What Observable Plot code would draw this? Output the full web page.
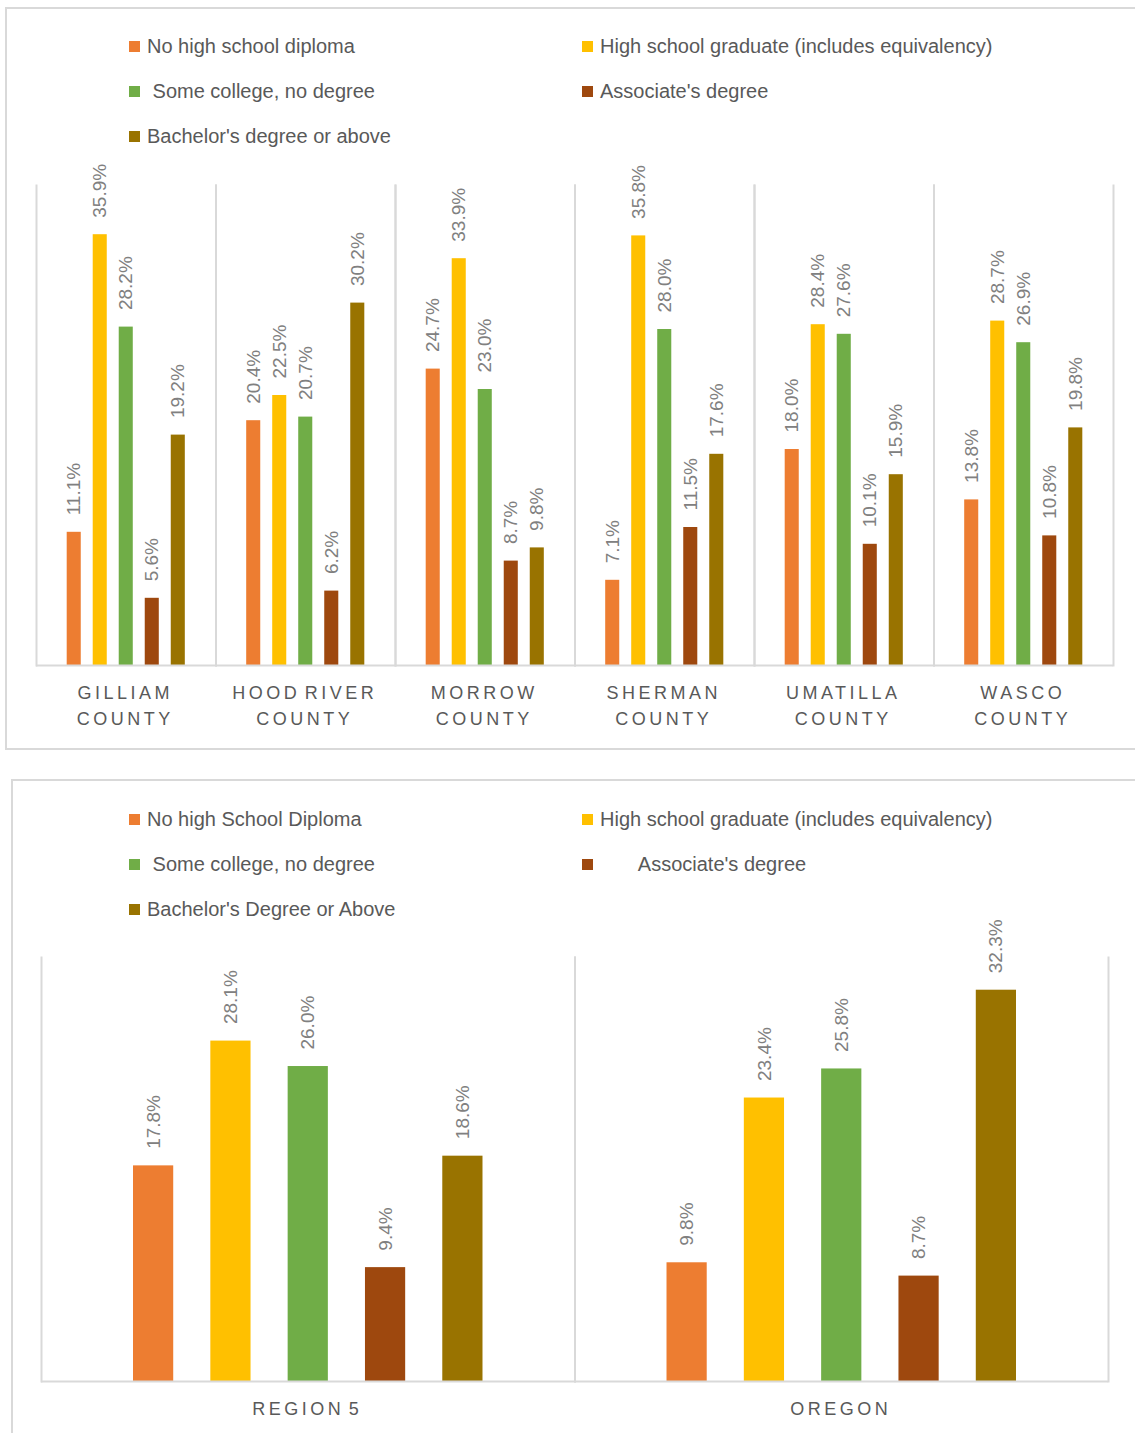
<!DOCTYPE html>
<html>
<head>
<meta charset="utf-8">
<script src="https://cdn.jsdelivr.net/npm/d3@7"></script>
<script src="https://cdn.jsdelivr.net/npm/@observablehq/plot@0.6"></script>
<style>
  html, body { margin: 0; padding: 0; background: #fff; }
  body { width: 1135px; height: 1433px; overflow: hidden; position: relative; font-family: "Liberation Sans", Arial, sans-serif; }
  .box { position: absolute; border: 2px solid #d9d9d9; box-sizing: border-box; }
  .legend { position: absolute; display: grid; grid-template-columns: 453px auto; grid-auto-rows: 45px; align-items: center; color: #595959; font-size: 20px; }
  .legend .item { display: flex; align-items: center; white-space: pre; }
  .legend .sw { width: 11px; height: 11px; margin-right: 7px; flex: none; }
  .chart { position: absolute; left: 0; }
  .chart g[aria-label="fx-axis tick label"] text { font-size: 18px; letter-spacing: 3.5px; word-spacing: -4px; fill: #595959; }
</style>
</head>
<body>
<div class="box" style="left:5px; top:7px; width:1200px; height:743px;"></div>
<div class="box" style="left:11px; top:779px; width:1200px; height:800px;"></div>
<div id="legendTop" class="legend" style="left:129px; top:24px;"></div>
<div id="legendBottom" class="legend" style="left:129px; top:797px;"></div>
<div id="chartTop" class="chart" style="top:160px;"></div>
<div id="chartBottom" class="chart" style="top:930px;"></div>
<script>
// ---- data ----
const categories = [
  "No high school diploma",
  "High school graduate (includes equivalency)",
  "Some college, no degree",
  "Associate's degree",
  "Bachelor's degree or above"
];
const colors = ["#ED7D31", "#FFC000", "#70AD47", "#9E480E", "#997300"];

const legendTopLabels = [
  "No high school diploma",
  "High school graduate (includes equivalency)",
  " Some college, no degree",
  "Associate's degree",
  "Bachelor's degree or above"
];
const legendBottomLabels = [
  "No high School Diploma",
  "High school graduate (includes equivalency)",
  " Some college, no degree",
  "       Associate's degree",
  "Bachelor's Degree or Above"
];

const counties = ["Gilliam County", "Hood River County", "Morrow County", "Sherman County", "Umatilla County", "Wasco County"];
const countyNoDiploma    = [11.1, 20.4, 24.7, 7.1, 18.0, 13.8];
const countyHSGrad       = [35.9, 22.5, 33.9, 35.8, 28.4, 28.7];
const countySomeCollege  = [28.2, 20.7, 23.0, 28.0, 27.6, 26.9];
const countyAssociate    = [5.6, 6.2, 8.7, 11.5, 10.1, 10.8];
const countyBachelor     = [19.2, 30.2, 9.8, 17.6, 15.9, 19.8];

const areas = ["Region 5", "Oregon"];
const areaNoDiploma   = [17.8, 9.8];
const areaHSGrad      = [28.1, 23.4];
const areaSomeCollege = [26.0, 25.8];
const areaAssociate   = [9.4, 8.7];
const areaBachelor    = [18.6, 32.3];

// ---- legends ----
function legend(el, labels) {
  labels.forEach((lab, i) => {
    const item = document.createElement("div");
    item.className = "item";
    const sw = document.createElement("span");
    sw.className = "sw";
    sw.style.background = colors[i];
    const t = document.createElement("span");
    t.textContent = lab;
    item.appendChild(sw);
    item.appendChild(t);
    el.appendChild(item);
  });
}
legend(document.getElementById("legendTop"), legendTopLabels);
legend(document.getElementById("legendBottom"), legendBottomLabels);

// ---- charts ----
function chart(o) {
  const data = o.groups.flatMap((g, i) => categories.map((c, j) => ({group: g, cat: c, v: o.values[j][i]})));
  return Plot.plot({
    width: 1135,
    height: o.height,
    marginLeft: o.marginLeft,
    marginRight: o.marginRight,
    marginTop: o.marginTop,
    marginBottom: o.marginBottom,
    style: {fontFamily: "'Liberation Sans', Arial, sans-serif", fontSize: "19px", background: "transparent", overflow: "visible"},
    fx: {domain: o.groups, padding: 0, round: false, label: null},
    x: {domain: categories, paddingInner: o.pi, paddingOuter: o.po, round: false, axis: null},
    y: {domain: [0, o.yMax], axis: null},
    color: {domain: categories, range: colors},
    marks: [
      Plot.frame({anchor: "left", stroke: "#d9d9d9", strokeWidth: 2}),
      Plot.frame({anchor: "right", stroke: "#d9d9d9", strokeWidth: 2}),
      Plot.barY(data, {fx: "group", x: "cat", y: "v", fill: "cat"}),
      Plot.ruleY([0], {stroke: "#d9d9d9", strokeWidth: 2}),
      Plot.text(data, {fx: "group", x: "cat", y: "v", text: d => d.v.toFixed(1) + "%", rotate: -90, textAnchor: "start", dy: -17, fill: "#808080"}),
      Plot.axisFx({anchor: "bottom", tickSize: 0, tickPadding: o.tickPadding, tickFormat: o.fmt, lineHeight: 1.44, label: null, dx: -1})
    ]
  });
}

document.getElementById("chartTop").appendChild(chart({
  groups: counties,
  values: [countyNoDiploma, countyHSGrad, countySomeCollege, countyAssociate, countyBachelor],
  height: 580, marginTop: 25, marginBottom: 75, marginLeft: 36, marginRight: 22,
  yMax: 40, pi: 0.46, po: 1.18, tickPadding: 15,
  fmt: d => d.toUpperCase().replace(/ COUNTY$/, "\nCOUNTY")
}));

document.getElementById("chartBottom").appendChild(chart({
  groups: areas,
  values: [areaNoDiploma, areaHSGrad, areaSomeCollege, areaAssociate, areaBachelor],
  height: 503, marginTop: 27, marginBottom: 52, marginLeft: 41, marginRight: 27,
  yMax: 35, pi: 0.48, po: 1.19, tickPadding: 15,
  fmt: d => d.toUpperCase()
}));
</script>
</body>
</html>
